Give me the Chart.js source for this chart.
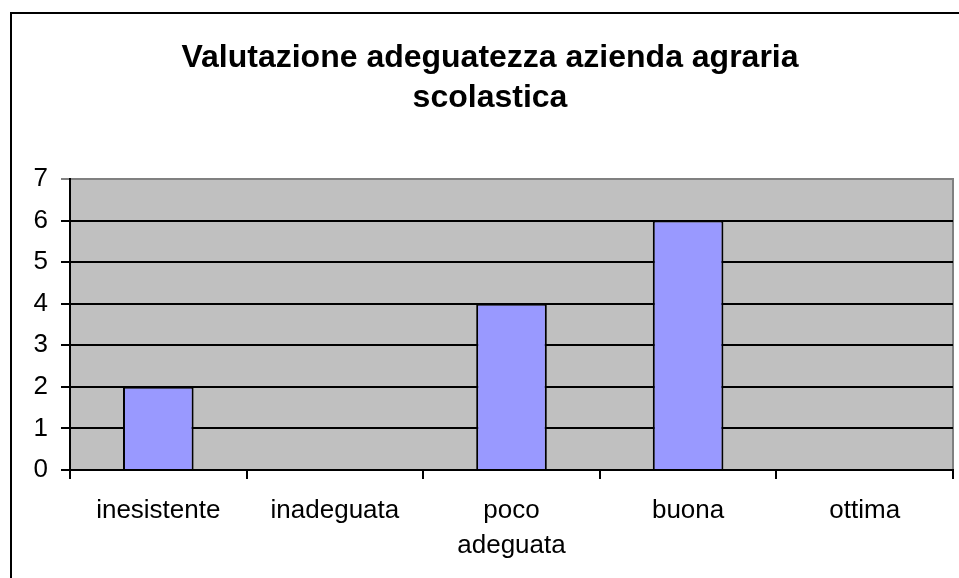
<!DOCTYPE html>
<html>
<head>
<meta charset="utf-8">
<script src="https://cdn.jsdelivr.net/npm/chart.js@4/dist/chart.umd.min.js"></script>
<style>
  html, body { margin: 0; padding: 0; background: #fff; }
  #wrap { width: 959px; height: 578px; position: relative; }
</style>
</head>
<body>
<div id="wrap"><canvas id="chart"></canvas></div>
<script>
// Chart data
const titleLines = ['Valutazione adeguatezza azienda agraria', 'scolastica'];
const categories = ['inesistente', 'inadeguata', ['poco', 'adeguata'], 'buona', 'ottima'];
const values = [2, 0, 4, 6, 0];
const yMin = 0;
const yMax = 7;
const yStep = 1;

const FONT = 'Arial, "Liberation Sans", sans-serif';

// Outer frame, plot background and title
const framePlugin = {
  id: 'frame',
  beforeDraw(chart) {
    const ctx = chart.ctx;
    const a = chart.chartArea;
    ctx.save();
    ctx.fillStyle = '#ffffff';
    ctx.fillRect(0, 0, chart.width, chart.height);
    ctx.strokeStyle = '#000000';
    ctx.lineWidth = 2;
    ctx.strokeRect(11, 13, chart.width + 20, chart.height + 20);
    ctx.fillStyle = '#c0c0c0';
    ctx.fillRect(a.left, a.top, a.right - a.left, a.bottom - a.top);
    ctx.strokeStyle = '#808080';
    ctx.lineWidth = 2;
    ctx.beginPath();
    ctx.moveTo(a.left, a.top);
    ctx.lineTo(a.right, a.top);
    ctx.lineTo(a.right, a.bottom);
    ctx.stroke();
    ctx.fillStyle = '#000000';
    ctx.font = 'bold 32px ' + FONT;
    ctx.textAlign = 'center';
    ctx.textBaseline = 'middle';
    ctx.fillText(titleLines[0], 490, 58);
    ctx.fillText(titleLines[1], 490, 98);
    ctx.restore();
  }
};

new Chart(document.getElementById('chart'), {
  type: 'bar',
  data: {
    labels: categories,
    datasets: [{
      data: values,
      backgroundColor: '#9999ff',
      borderColor: '#000000',
      borderWidth: 2,
      borderSkipped: 'bottom',
      barPercentage: 0.4,
      categoryPercentage: 1
    }]
  },
  options: {
    responsive: true,
    maintainAspectRatio: false,
    animation: false,
    layout: { padding: { left: 0, right: 6, top: 179, bottom: 0 } },
    plugins: {
      legend: { display: false },
      title: { display: false },
      tooltip: { enabled: false }
    },
    scales: {
      x: {
        afterFit(scale) { scale.height = 108; },
        grid: {
          offset: true,
          drawOnChartArea: false,
          drawTicks: true,
          tickLength: 9,
          color: '#000000',
          lineWidth: 2
        },
        border: { display: true, color: '#000000', width: 2 },
        ticks: {
          color: '#000000',
          padding: 14,
          maxRotation: 0,
          autoSkip: false,
          font: { family: FONT, size: 26, lineHeight: 1.35 }
        }
      },
      y: {
        min: yMin,
        max: yMax,
        afterFit(scale) { scale.width = 70; },
        grid: {
          color: ctx => ctx.tick && ctx.tick.value === yMax ? '#808080' : '#000000',
          lineWidth: 2,
          tickLength: 9
        },
        border: { display: true, color: '#000000', width: 2 },
        ticks: {
          stepSize: yStep,
          color: '#000000',
          padding: 13,
          font: { family: FONT, size: 26 }
        }
      }
    }
  },
  plugins: [framePlugin]
});
</script>
</body>
</html>
